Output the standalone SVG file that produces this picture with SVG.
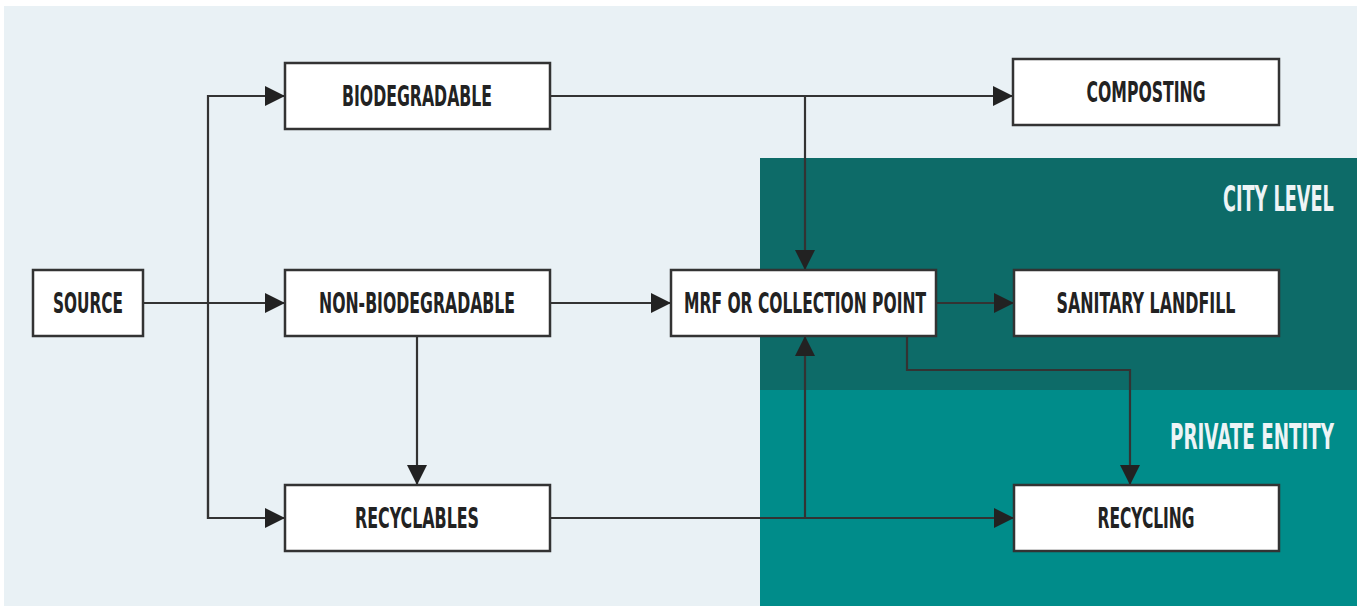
<svg xmlns="http://www.w3.org/2000/svg" width="1362" height="606" viewBox="0 0 1362 606">
<defs>
<marker id="ah" markerUnits="userSpaceOnUse" markerWidth="21" markerHeight="22" refX="20" refY="11" orient="auto">
<path d="M0,1 L20,11 L0,21 Z" fill="#222"/>
</marker>
<style>
.box{fill:#fff;stroke:#333;stroke-width:2.5}
.lbl{font-family:"Liberation Sans Narrow","DejaVu Sans Condensed","Liberation Sans",sans-serif;font-size:28px;font-weight:bold;fill:#222;text-anchor:middle}
.zone{font-family:"Liberation Sans Narrow","DejaVu Sans Condensed","Liberation Sans",sans-serif;font-size:36px;font-weight:600;fill:#eef4f6}
.ln{fill:none;stroke:#333;stroke-width:2.2}
</style>
</defs>
<rect x="0" y="0" width="1362" height="606" fill="#fff"/>
<rect x="4" y="6" width="1353" height="600" fill="#e9f1f5"/>
<g id="zone-city"><rect x="760" y="158" width="597" height="232" fill="#0d6b68"/>
<text class="zone" transform="translate(1223,211) scale(0.56,1)" x="0" y="0" textLength="198" lengthAdjust="spacingAndGlyphs">CITY LEVEL</text></g>
<g id="zone-private"><rect x="760" y="390" width="597" height="216" fill="#008c8a"/>
<text class="zone" transform="translate(1170,449) scale(0.56,1)" x="0" y="0" textLength="293" lengthAdjust="spacingAndGlyphs">PRIVATE ENTITY</text></g>
<g id="connectors">
<path class="ln" d="M143,303 H285" marker-end="url(#ah)"/>
<path class="ln" d="M208,519 V96 H285" marker-end="url(#ah)"/>
<path class="ln" d="M208,400 V518 H285" marker-end="url(#ah)"/>
<path class="ln" d="M417,336 V485" marker-end="url(#ah)"/>
<path class="ln" d="M550,96 H1013" marker-end="url(#ah)"/>
<path class="ln" d="M805,96 V270" marker-end="url(#ah)"/>
<path class="ln" d="M550,303 H671" marker-end="url(#ah)"/>
<path class="ln" d="M936,303 H1014" marker-end="url(#ah)"/>
<path class="ln" d="M907,336 V370 H1130 V485" marker-end="url(#ah)"/>
<path class="ln" d="M550,518 H1014" marker-end="url(#ah)"/>
<path class="ln" d="M805,518 V336" marker-end="url(#ah)"/>
</g>
<g id="source"><rect class="box" x="33" y="270" width="110" height="66"/><text class="lbl" x="88" y="313" textLength="70" lengthAdjust="spacingAndGlyphs">SOURCE</text></g>
<g id="biodegradable"><rect class="box" x="285" y="63" width="265" height="66"/><text class="lbl" x="417" y="106" textLength="150" lengthAdjust="spacingAndGlyphs">BIODEGRADABLE</text></g>
<g id="non-biodegradable"><rect class="box" x="285" y="270" width="265" height="66"/><text class="lbl" x="417" y="313" textLength="196" lengthAdjust="spacingAndGlyphs">NON-BIODEGRADABLE</text></g>
<g id="recyclables"><rect class="box" x="285" y="485" width="265" height="66"/><text class="lbl" x="417" y="528" textLength="124" lengthAdjust="spacingAndGlyphs">RECYCLABLES</text></g>
<g id="mrf"><rect class="box" x="671" y="270" width="265" height="66"/><text class="lbl" x="805" y="313" textLength="242" lengthAdjust="spacingAndGlyphs">MRF OR COLLECTION POINT</text></g>
<g id="composting"><rect class="box" x="1013" y="59" width="266" height="66"/><text class="lbl" x="1146" y="102" textLength="119" lengthAdjust="spacingAndGlyphs">COMPOSTING</text></g>
<g id="sanitary-landfill"><rect class="box" x="1014" y="270" width="265" height="66"/><text class="lbl" x="1146" y="313" textLength="179" lengthAdjust="spacingAndGlyphs">SANITARY LANDFILL</text></g>
<g id="recycling"><rect class="box" x="1014" y="485" width="265" height="66"/><text class="lbl" x="1146" y="528" textLength="97" lengthAdjust="spacingAndGlyphs">RECYCLING</text></g>
</svg>
